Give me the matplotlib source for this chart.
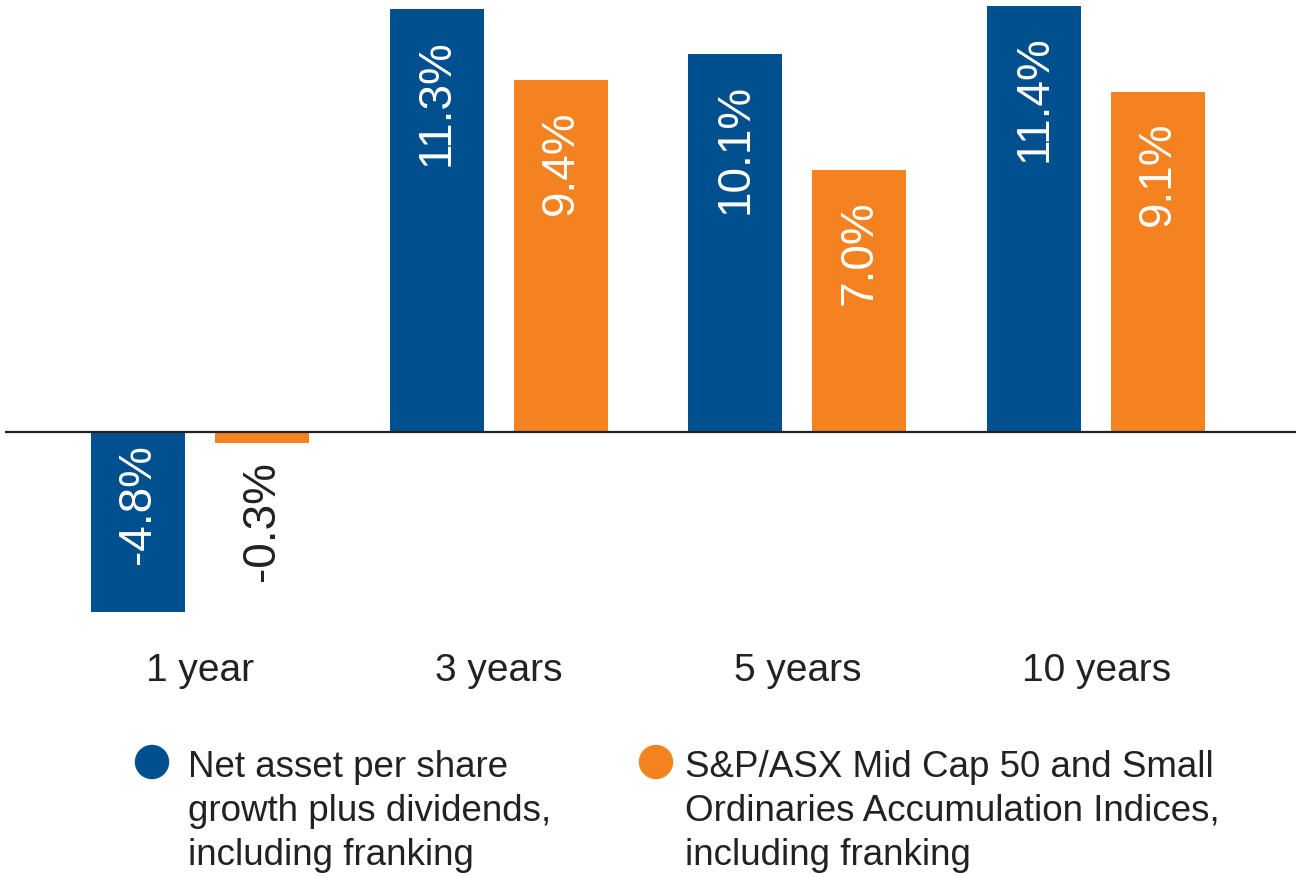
import numpy as np
import matplotlib
matplotlib.use("Agg")
import matplotlib.pyplot as plt

plt.rcParams['font.family'] = ['Liberation Sans', 'DejaVu Sans']

periods = ['1 year', '3 years', '5 years', '10 years']
nav_growth = [-4.8, 11.3, 10.1, 11.4]
index_return = [-0.3, 9.4, 7.0, 9.1]
series_names = ['Net asset per share\ngrowth plus dividends,\nincluding franking',
                'S&P/ASX Mid Cap 50 and Small\nOrdinaries Accumulation Indices,\nincluding franking']

BLUE = '#00508F'
ORANGE = '#F58220'
DARK = '#222222'

W, H = 1296, 876
fig = plt.figure(figsize=(W / 100, H / 100), dpi=100)

# axes: zero line at y=432 px, ~37.4 px per percent
px_per = 37.4
ax_top, ax_bot = 0, 620
ax = fig.add_axes([5 / W, 1 - ax_bot / H, (W - 5) / W, (ax_bot - ax_top) / H])
ax.set_ylim(-(ax_bot - 432) / px_per, 432 / px_per)
spacing = 298.7
ax.set_xlim((5 - 200) / spacing, (W - 200) / spacing)
ax.axis('off')

x = np.arange(len(periods))
width = 94 / spacing
off = 62 / spacing

ax.bar(x - off, nav_growth, width, color=BLUE, zorder=2)
ax.bar(x + off, index_return, width, color=ORANGE, zorder=2)
ax.axhline(0, color=DARK, lw=1.6, zorder=3)

def label(xpos, val):
    txt = f'{val:.1f}%'
    if val > 0:
        ax.annotate(txt, (xpos, val), xytext=(0, -30), textcoords='offset pixels',
                    rotation=90, ha='center', va='top', color='white', fontsize=33)
    elif val < -1:
        ax.annotate(txt, (xpos, 0), xytext=(0, -12), textcoords='offset pixels',
                    rotation=90, ha='center', va='top', color='white', fontsize=33)
    else:
        ax.annotate(txt, (xpos, val), xytext=(0, -18), textcoords='offset pixels',
                    rotation=90, ha='center', va='top', color=DARK, fontsize=33)

for i in range(len(periods)):
    label(x[i] - off, nav_growth[i])
    label(x[i] + off, index_return[i])
    ax.annotate(periods[i], (x[i], 0), xytext=(0, -239), textcoords='offset pixels',
                ha='center', va='center', fontsize=28, color=DARK)

# legend
for cx, col, tx, name in [(152, BLUE, 188, series_names[0]), (656, ORANGE, 685, series_names[1])]:
    fig.patches.append(matplotlib.patches.Ellipse((cx / W, 1 - 762 / H), 33 / W, 33 / H,
                                                   transform=fig.transFigure, color=col))
    fig.text(tx / W, 1 - 750 / H, name, ha='left', va='top', fontsize=26.5,
             color=DARK, linespacing=1.33)

fig.savefig('out.png', dpi=100)
